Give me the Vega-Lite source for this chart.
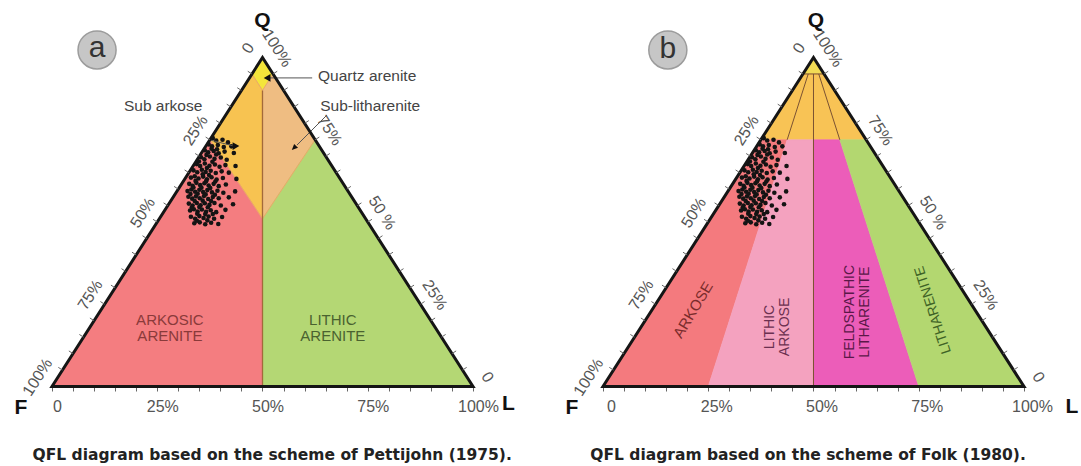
{
  "$schema": "https://vega.github.io/schema/vega-lite/v6.json",
  "padding": 0,
  "background": "white",
  "spacing": 21,
  "bounds": "flush",
  "config": {"view": {"stroke": null}, "text": {"font": "Liberation Sans"}},
  "datasets": {
    "tri": [{"i": 0, "x": 0, "y": 0}, {"i": 1, "x": 100, "y": 0}, {"i": 2, "x": 50, "y": 100}],
    "leftTicks": [{"x":2.5,"y":5},{"x":5,"y":10},{"x":7.5,"y":15},{"x":10,"y":20},{"x":12.5,"y":25},{"x":15,"y":30},{"x":17.5,"y":35},{"x":20,"y":40},{"x":22.5,"y":45},{"x":25,"y":50},{"x":27.5,"y":55},{"x":30,"y":60},{"x":32.5,"y":65},{"x":35,"y":70},{"x":37.5,"y":75},{"x":40,"y":80},{"x":42.5,"y":85},{"x":45,"y":90},{"x":47.5,"y":95}],
    "rightTicks": [{"x":97.5,"y":5},{"x":95,"y":10},{"x":92.5,"y":15},{"x":90,"y":20},{"x":87.5,"y":25},{"x":85,"y":30},{"x":82.5,"y":35},{"x":80,"y":40},{"x":77.5,"y":45},{"x":75,"y":50},{"x":72.5,"y":55},{"x":70,"y":60},{"x":67.5,"y":65},{"x":65,"y":70},{"x":62.5,"y":75},{"x":60,"y":80},{"x":57.5,"y":85},{"x":55,"y":90},{"x":52.5,"y":95}],
    "leftLabels": [{"x":50,"y":100,"t":"0"},{"x":37.5,"y":75,"t":"25%"},{"x":25,"y":50,"t":"50%"},{"x":12.5,"y":25,"t":"75%"},{"x":0,"y":0,"t":"100%"}],
    "rightLabels": [{"x":50,"y":100,"t":"100%"},{"x":62.5,"y":75,"t":"75%"},{"x":75,"y":50,"t":"50 %"},{"x":87.5,"y":25,"t":"25%"},{"x":100,"y":0,"t":"0"}],
    "regionsA": [
      {"region":"A Quartz arenite","i":0,"x":50,"y":100},{"region":"A Quartz arenite","i":1,"x":47.5,"y":95},{"region":"A Quartz arenite","i":2,"x":50,"y":90},{"region":"A Quartz arenite","i":3,"x":52.5,"y":95},
      {"region":"A Sub arkose","i":0,"x":47.5,"y":95},{"region":"A Sub arkose","i":1,"x":37.5,"y":75},{"region":"A Sub arkose","i":2,"x":50,"y":51},{"region":"A Sub arkose","i":3,"x":50,"y":90},
      {"region":"A Sub-litharenite","i":0,"x":52.5,"y":95},{"region":"A Sub-litharenite","i":1,"x":50,"y":90},{"region":"A Sub-litharenite","i":2,"x":50,"y":51},{"region":"A Sub-litharenite","i":3,"x":62.5,"y":75},
      {"region":"A Arkosic arenite","i":0,"x":0,"y":0},{"region":"A Arkosic arenite","i":1,"x":50,"y":0},{"region":"A Arkosic arenite","i":2,"x":50,"y":51},{"region":"A Arkosic arenite","i":3,"x":37.5,"y":75},
      {"region":"A Lithic arenite","i":0,"x":50,"y":0},{"region":"A Lithic arenite","i":1,"x":100,"y":0},{"region":"A Lithic arenite","i":2,"x":62.5,"y":75},{"region":"A Lithic arenite","i":3,"x":50,"y":51}
    ],
    "regionsB": [
      {"region":"B Quartz arenite","i":0,"x":50,"y":100},{"region":"B Quartz arenite","i":1,"x":47.5,"y":95},{"region":"B Quartz arenite","i":2,"x":52.5,"y":95},
      {"region":"B Subarkose","i":0,"x":47.5,"y":95},{"region":"B Subarkose","i":1,"x":37.5,"y":75},{"region":"B Subarkose","i":2,"x":62.5,"y":75},{"region":"B Subarkose","i":3,"x":52.5,"y":95},
      {"region":"B Arkose","i":0,"x":0,"y":0},{"region":"B Arkose","i":1,"x":25,"y":0},{"region":"B Arkose","i":2,"x":43.75,"y":75},{"region":"B Arkose","i":3,"x":37.5,"y":75},
      {"region":"B Lithic arkose","i":0,"x":25,"y":0},{"region":"B Lithic arkose","i":1,"x":50,"y":0},{"region":"B Lithic arkose","i":2,"x":50,"y":75},{"region":"B Lithic arkose","i":3,"x":43.75,"y":75},
      {"region":"B Feldspathic litharenite","i":0,"x":50,"y":0},{"region":"B Feldspathic litharenite","i":1,"x":75,"y":0},{"region":"B Feldspathic litharenite","i":2,"x":56.25,"y":75},{"region":"B Feldspathic litharenite","i":3,"x":50,"y":75},
      {"region":"B Litharenite","i":0,"x":75,"y":0},{"region":"B Litharenite","i":1,"x":100,"y":0},{"region":"B Litharenite","i":2,"x":62.5,"y":75},{"region":"B Litharenite","i":3,"x":56.25,"y":75}
    ],
    "pts": [
      {"x":38.2,"y":75.5},{"x":39.0,"y":74.8},{"x":40.5,"y":75.0},{"x":41.8,"y":74.2},
      {"x":37.2,"y":73.6},{"x":38.0,"y":73.0},{"x":39.4,"y":73.4},{"x":40.8,"y":72.8},{"x":42.6,"y":73.0},
      {"x":36.3,"y":71.8},{"x":37.1,"y":71.2},{"x":38.4,"y":71.6},{"x":39.6,"y":70.9},{"x":41.0,"y":71.4},{"x":43.2,"y":71.0},
      {"x":35.4,"y":69.7},{"x":36.2,"y":69.1},{"x":37.5,"y":69.9},{"x":38.6,"y":69.2},{"x":40.1,"y":69.6},{"x":41.5,"y":68.9},
      {"x":34.4,"y":67.6},{"x":35.2,"y":67.0},{"x":36.3,"y":67.8},{"x":37.4,"y":67.1},{"x":38.7,"y":67.5},{"x":39.8,"y":66.8},{"x":41.2,"y":67.3},{"x":43.6,"y":67.0},
      {"x":33.6,"y":65.7},{"x":34.5,"y":65.1},{"x":35.6,"y":65.9},{"x":36.5,"y":65.2},{"x":37.7,"y":65.6},{"x":38.9,"y":64.9},{"x":40.3,"y":65.4},{"x":42.0,"y":65.0},
      {"x":33.0,"y":63.5},{"x":33.9,"y":63.9},{"x":34.8,"y":63.2},{"x":35.9,"y":63.8},{"x":36.8,"y":63.0},{"x":37.9,"y":63.6},{"x":39.1,"y":62.9},{"x":40.6,"y":63.4},{"x":43.8,"y":63.1},
      {"x":32.6,"y":61.6},{"x":33.4,"y":61.0},{"x":34.3,"y":61.9},{"x":35.2,"y":61.2},{"x":36.2,"y":61.8},{"x":37.2,"y":61.1},{"x":38.4,"y":61.6},{"x":39.6,"y":60.9},{"x":41.3,"y":61.4},
      {"x":32.2,"y":59.4},{"x":33.1,"y":59.9},{"x":34.0,"y":59.2},{"x":35.0,"y":59.8},{"x":35.9,"y":59.1},{"x":36.9,"y":59.7},{"x":38.0,"y":59.0},{"x":39.3,"y":59.5},{"x":40.7,"y":58.9},{"x":43.5,"y":59.3},
      {"x":32.4,"y":57.7},{"x":33.3,"y":57.1},{"x":34.2,"y":57.8},{"x":35.1,"y":57.2},{"x":36.1,"y":57.9},{"x":37.1,"y":57.0},{"x":38.2,"y":57.6},{"x":39.6,"y":57.2},{"x":42.0,"y":57.5},
      {"x":32.5,"y":55.6},{"x":33.4,"y":55.0},{"x":34.4,"y":55.8},{"x":35.3,"y":55.1},{"x":36.3,"y":55.7},{"x":37.4,"y":55.2},{"x":38.6,"y":55.8},{"x":40.1,"y":55.0},{"x":43.0,"y":55.4},
      {"x":32.8,"y":53.5},{"x":33.7,"y":53.9},{"x":34.6,"y":53.2},{"x":35.6,"y":53.8},{"x":36.6,"y":53.1},{"x":37.7,"y":53.6},{"x":39.0,"y":53.0},{"x":41.2,"y":53.7},
      {"x":33.0,"y":51.6},{"x":34.0,"y":51.0},{"x":35.0,"y":51.8},{"x":36.0,"y":51.2},{"x":37.2,"y":51.7},{"x":38.5,"y":51.0},{"x":40.4,"y":51.5},
      {"x":33.8,"y":49.6},{"x":35.1,"y":49.9},{"x":36.4,"y":49.3},{"x":37.8,"y":49.8},{"x":39.5,"y":49.4},
      {"x":34.9,"y":68.4},{"x":36.8,"y":66.4},{"x":38.1,"y":68.3},{"x":35.8,"y":64.5},{"x":37.3,"y":64.3},{"x":34.1,"y":62.5},{"x":36.6,"y":62.4},{"x":38.8,"y":62.3},{"x":33.6,"y":60.5},{"x":35.5,"y":60.4},
      {"x":37.6,"y":60.3},{"x":32.9,"y":58.5},{"x":34.6,"y":58.6},{"x":36.5,"y":58.4},{"x":38.7,"y":58.3},{"x":33.9,"y":56.4},{"x":35.8,"y":56.5},{"x":37.8,"y":56.4},{"x":33.2,"y":54.4},{"x":35.0,"y":54.6},
      {"x":37.0,"y":54.5},{"x":34.5,"y":52.5},{"x":36.4,"y":52.4},{"x":38.2,"y":52.4},{"x":34.4,"y":50.4},{"x":36.9,"y":50.5},{"x":37.9,"y":72.3},{"x":39.2,"y":72.1},{"x":36.7,"y":70.4},{"x":39.0,"y":70.5}
    ]
  },
  "hconcat": [
    {
      "width": 530,
      "height": 466,
      "encoding": {
        "x": {"field": "x", "type": "quantitative", "scale": {"domain": [-12.35, 113.54], "nice": false, "zero": false},
          "axis": {"orient": "bottom", "offset": -80, "domain": false, "grid": false, "tickSize": 5, "tickColor": "#666", "tickWidth": 1,
            "values": [0,5,10,15,20,25,30,35,40,45,50,55,60,65,70,75,80,85,90,95,100],
            "labelExpr": "datum.value == 0 ? '0' : (datum.value % 25 == 0 ? datum.value + '%' : '')",
            "labelFont": "Liberation Sans", "labelFontSize": 16, "labelColor": "#555", "labelPadding": 7, "labelOffset": 5,
            "labelOverlap": false, "labelFlush": false, "labelBound": false, "title": null}},
        "y": {"field": "y", "type": "quantitative", "scale": {"domain": [-24.16, 117.48], "nice": false, "zero": false}, "axis": null}
      },
      "layer": [
        {"data": {"name": "regionsA"}, "mark": {"type": "line", "interpolate": "linear-closed", "strokeWidth": 0.6},
          "encoding": {"detail": {"field": "region"}, "order": {"field": "i", "type": "quantitative"},
            "fill": {"field": "region", "type": "nominal", "legend": null, "scale": {"domain": ["A Quartz arenite","A Sub arkose","A Sub-litharenite","A Arkosic arenite","A Lithic arenite","B Quartz arenite","B Subarkose","B Arkose","B Lithic arkose","B Feldspathic litharenite","B Litharenite"], "range": ["#F4E53A","#F7C351","#EFBD82","#F47D80","#B4D774","#F2DC55","#F8C355","#F47A7E","#F4A2BF","#EC5DB9","#B3D770"]}},
            "stroke": {"field": "region", "type": "nominal", "legend": null, "scale": {"domain": ["A Quartz arenite","A Sub arkose","A Sub-litharenite","A Arkosic arenite","A Lithic arenite","B Quartz arenite","B Subarkose","B Arkose","B Lithic arkose","B Feldspathic litharenite","B Litharenite"], "range": ["#F4E53A","#F7C351","#EFBD82","#F47D80","#B4D774","#F2DC55","#F8C355","#F47A7E","#F4A2BF","#EC5DB9","#B3D770"]}}}},
        {"data": {"values": [{"x":37.5,"y":75,"x2":50,"y2":51},{"x":50,"y":51,"x2":62.5,"y2":75},{"x":47.5,"y":95,"x2":50,"y2":90},{"x":50,"y":90,"x2":52.5,"y2":95}]},
          "mark": {"type": "rule", "color": "#E9A867", "strokeWidth": 1},
          "encoding": {"x2": {"field": "x2"}, "y2": {"field": "y2"}}},
        {"data": {"values": [{"x":50,"y":90,"x2":50,"y2":0}]},
          "mark": {"type": "rule", "color": "#A36A3A", "strokeWidth": 1.3},
          "encoding": {"x2": {"field": "x2"}, "y2": {"field": "y2"}}},
        {"data": {"name": "pts"}, "mark": {"type": "circle", "size": 21, "color": "#141414", "opacity": 1}},
        {"data": {"values": [{"x":51.3,"y":93.8,"x2":61.8,"y2":93.8},{"x":37.6,"y":74.9,"x2":43.2,"y2":73.1},{"x":65.3,"y":82.5,"x2":58.2,"y2":73.4}]},
          "mark": {"type": "rule", "color": "#555", "strokeWidth": 1},
          "encoding": {"x2": {"field": "x2"}, "y2": {"field": "y2"}}},
        {"data": {"values": [{"x":51.1,"y":93.8,"t":"qa"},{"x":43.7,"y":73.1,"t":"sa"},{"x":57.7,"y":72.8,"t":"sl"}]},
          "mark": {"type": "point", "filled": true, "size": 60, "color": "#111", "opacity": 1},
          "encoding": {"shape": {"field": "t", "type": "nominal", "legend": null, "scale": {"domain": ["qa","sa","sl"], "range": ["triangle-left","triangle-right","M-0.8,0.8L0.8,0.2L-0.2,-0.8Z"]}}}},
        {"data": {"name": "tri"}, "mark": {"type": "line", "interpolate": "linear-closed", "color": "#151515", "strokeWidth": 3, "strokeJoin": "miter"},
          "encoding": {"order": {"field": "i", "type": "quantitative"}}},
        {"data": {"name": "leftTicks"}, "mark": {"type": "point", "shape": "M0,0L-0.84,-0.54", "size": 100, "filled": false, "stroke": "#666", "strokeWidth": 1, "opacity": 1}},
        {"data": {"name": "rightTicks"}, "mark": {"type": "point", "shape": "M0,0L0.84,-0.54", "size": 100, "filled": false, "stroke": "#666", "strokeWidth": 1, "opacity": 1}},
        {"data": {"name": "leftLabels"}, "mark": {"type": "text", "angle": -57.4, "dy": -17, "align": "center", "baseline": "middle", "fontSize": 16, "color": "#555"},
          "encoding": {"text": {"field": "t"}}},
        {"data": {"name": "rightLabels"}, "mark": {"type": "text", "angle": 57.4, "dy": -17, "align": "center", "baseline": "middle", "fontSize": 16, "color": "#555"},
          "encoding": {"text": {"field": "t"}}},
        {"data": {"values": [{"x":63.2,"y":94.4,"t":"Quartz arenite"},{"x":63.7,"y":85.3,"t":"Sub-litharenite"}]},
          "mark": {"type": "text", "align": "left", "baseline": "middle", "fontSize": 15.5, "color": "#444"},
          "encoding": {"text": {"field": "t"}}},
        {"data": {"values": [{"x":26.4,"y":85.3,"t":"Sub arkose"}]},
          "mark": {"type": "text", "align": "center", "baseline": "middle", "fontSize": 15.5, "color": "#444"},
          "encoding": {"text": {"field": "t"}}},
        {"data": {"values": [{"x":28.0,"y":20.2,"t":"ARKOSIC\nARENITE"}]},
          "mark": {"type": "text", "align": "center", "baseline": "middle", "fontSize": 15, "lineBreak": "\n", "lineHeight": 16, "color": "#8A3A3A"},
          "encoding": {"text": {"field": "t"}}},
        {"data": {"values": [{"x":66.7,"y":20.2,"t":"LITHIC\nARENITE"}]},
          "mark": {"type": "text", "align": "center", "baseline": "middle", "fontSize": 15, "lineBreak": "\n", "lineHeight": 16, "color": "#4A6230"},
          "encoding": {"text": {"field": "t"}}},
        {"data": {"values": [{"x":50.0,"y":111.2,"t":"Q"},{"x":-7.4,"y":-6.4,"t":"F"},{"x":108.4,"y":-5.2,"t":"L"}]},
          "mark": {"type": "text", "align": "center", "baseline": "middle", "fontSize": 21, "fontWeight": "bold", "color": "#111"},
          "encoding": {"text": {"field": "t"}}},
        {"data": {"values": [{"x":10.7,"y":102.3}]},
          "mark": {"type": "point", "shape": "circle", "filled": true, "size": 1450, "fill": "#C6C6C6", "stroke": "#9C9C9C", "strokeWidth": 1.5, "opacity": 1}},
        {"data": {"values": [{"x":10.7,"y":102.3,"t":"a"}]},
          "mark": {"type": "text", "align": "center", "baseline": "middle", "dy": -2, "fontSize": 30, "color": "#333"},
          "encoding": {"text": {"field": "t"}}},
        {"data": {"values": [{"x":52.3,"y":-20.8,"t":"QFL diagram based on the scheme of Pettijohn (1975)."}]},
          "mark": {"type": "text", "align": "center", "baseline": "middle", "font": "DejaVu Sans", "fontSize": 15.5, "fontWeight": "bold", "color": "#222"},
          "encoding": {"text": {"field": "t"}}}
      ]
    },
    {
      "width": 530,
      "height": 466,
      "encoding": {
        "x": {"field": "x", "type": "quantitative", "scale": {"domain": [-12.35, 113.54], "nice": false, "zero": false},
          "axis": {"orient": "bottom", "offset": -80, "domain": false, "grid": false, "tickSize": 5, "tickColor": "#666", "tickWidth": 1,
            "values": [0,5,10,15,20,25,30,35,40,45,50,55,60,65,70,75,80,85,90,95,100],
            "labelExpr": "datum.value == 0 ? '0' : (datum.value % 25 == 0 ? datum.value + '%' : '')",
            "labelFont": "Liberation Sans", "labelFontSize": 16, "labelColor": "#555", "labelPadding": 7, "labelOffset": 8,
            "labelOverlap": false, "labelFlush": false, "labelBound": false, "title": null}},
        "y": {"field": "y", "type": "quantitative", "scale": {"domain": [-24.16, 117.48], "nice": false, "zero": false}, "axis": null}
      },
      "layer": [
        {"data": {"name": "regionsB"}, "mark": {"type": "line", "interpolate": "linear-closed", "strokeWidth": 0.6},
          "encoding": {"detail": {"field": "region"}, "order": {"field": "i", "type": "quantitative"},
            "fill": {"field": "region", "type": "nominal", "legend": null, "scale": {"domain": ["A Quartz arenite","A Sub arkose","A Sub-litharenite","A Arkosic arenite","A Lithic arenite","B Quartz arenite","B Subarkose","B Arkose","B Lithic arkose","B Feldspathic litharenite","B Litharenite"], "range": ["#F4E53A","#F7C351","#EFBD82","#F47D80","#B4D774","#F2DC55","#F8C355","#F47A7E","#F4A2BF","#EC5DB9","#B3D770"]}},
            "stroke": {"field": "region", "type": "nominal", "legend": null, "scale": {"domain": ["A Quartz arenite","A Sub arkose","A Sub-litharenite","A Arkosic arenite","A Lithic arenite","B Quartz arenite","B Subarkose","B Arkose","B Lithic arkose","B Feldspathic litharenite","B Litharenite"], "range": ["#F4E53A","#F7C351","#EFBD82","#F47D80","#B4D774","#F2DC55","#F8C355","#F47A7E","#F4A2BF","#EC5DB9","#B3D770"]}}}},
        {"data": {"values": [{"x":48.75,"y":95,"x2":43.75,"y2":75},{"x":51.25,"y":95,"x2":56.25,"y2":75},{"x":50,"y":95,"x2":50,"y2":0},{"x":47.5,"y":95,"x2":52.5,"y2":95}]},
          "mark": {"type": "rule", "color": "#7B5232", "strokeWidth": 1},
          "encoding": {"x2": {"field": "x2"}, "y2": {"field": "y2"}}},
        {"data": {"name": "pts"}, "mark": {"type": "circle", "size": 21, "color": "#141414", "opacity": 1}},
        {"data": {"name": "tri"}, "mark": {"type": "line", "interpolate": "linear-closed", "color": "#151515", "strokeWidth": 3, "strokeJoin": "miter"},
          "encoding": {"order": {"field": "i", "type": "quantitative"}}},
        {"data": {"name": "leftTicks"}, "mark": {"type": "point", "shape": "M0,0L-0.84,-0.54", "size": 100, "filled": false, "stroke": "#666", "strokeWidth": 1, "opacity": 1}},
        {"data": {"name": "rightTicks"}, "mark": {"type": "point", "shape": "M0,0L0.84,-0.54", "size": 100, "filled": false, "stroke": "#666", "strokeWidth": 1, "opacity": 1}},
        {"data": {"name": "leftLabels"}, "mark": {"type": "text", "angle": -57.4, "dy": -17, "align": "center", "baseline": "middle", "fontSize": 16, "color": "#555"},
          "encoding": {"text": {"field": "t"}}},
        {"data": {"name": "rightLabels"}, "mark": {"type": "text", "angle": 57.4, "dy": -17, "align": "center", "baseline": "middle", "fontSize": 16, "color": "#555"},
          "encoding": {"text": {"field": "t"}}},
        {"data": {"values": [{"x":21.4,"y":23.3,"t":"ARKOSE"}]},
          "mark": {"type": "text", "align": "center", "baseline": "middle", "angle": -59, "fontSize": 15, "color": "#7A2C2C"},
          "encoding": {"text": {"field": "t"}}},
        {"data": {"values": [{"x":39.7,"y":18.1,"t":"LITHIC\nARKOSE"}]},
          "mark": {"type": "text", "align": "center", "baseline": "middle", "angle": -90, "fontSize": 14, "lineBreak": "\n", "lineHeight": 15, "color": "#6B3050"},
          "encoding": {"text": {"field": "t"}}},
        {"data": {"values": [{"x":58.7,"y":22.6,"t":"FELDSPATHIC\nLITHARENITE"}]},
          "mark": {"type": "text", "align": "center", "baseline": "middle", "angle": -90, "fontSize": 14, "lineBreak": "\n", "lineHeight": 15, "color": "#5A1848"},
          "encoding": {"text": {"field": "t"}}},
        {"data": {"values": [{"x":78.4,"y":23.3,"t":"LITHARENITE"}]},
          "mark": {"type": "text", "align": "center", "baseline": "middle", "angle": -108, "fontSize": 14, "color": "#3F6326"},
          "encoding": {"text": {"field": "t"}}},
        {"data": {"values": [{"x":50.6,"y":111.2,"t":"Q"},{"x":-7.4,"y":-6.4,"t":"F"},{"x":111.4,"y":-6.2,"t":"L"}]},
          "mark": {"type": "text", "align": "center", "baseline": "middle", "fontSize": 21, "fontWeight": "bold", "color": "#111"},
          "encoding": {"text": {"field": "t"}}},
        {"data": {"values": [{"x":15.4,"y":102.3}]},
          "mark": {"type": "point", "shape": "circle", "filled": true, "size": 1450, "fill": "#C6C6C6", "stroke": "#9C9C9C", "strokeWidth": 1.5, "opacity": 1}},
        {"data": {"values": [{"x":15.4,"y":102.3,"t":"b"}]},
          "mark": {"type": "text", "align": "center", "baseline": "middle", "dy": -1, "fontSize": 30, "color": "#333"},
          "encoding": {"text": {"field": "t"}}},
        {"data": {"values": [{"x":48.7,"y":-20.8,"t":"QFL diagram based on the scheme of Folk (1980)."}]},
          "mark": {"type": "text", "align": "center", "baseline": "middle", "font": "DejaVu Sans", "fontSize": 15.5, "fontWeight": "bold", "color": "#222"},
          "encoding": {"text": {"field": "t"}}}
      ]
    }
  ]
}
